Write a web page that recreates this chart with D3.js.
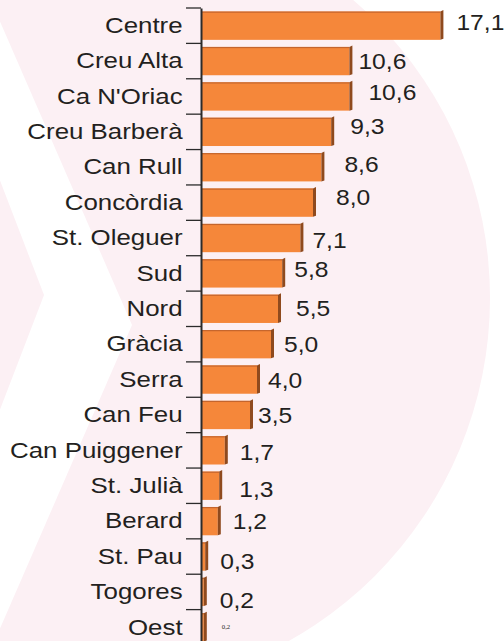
<!DOCTYPE html>
<meta charset="utf-8">
<head>
  <title>Barris</title>
  <script src="https://cdn.jsdelivr.net/npm/d3@7"></script>
</head>
<style>
  body { margin: 0; background: #fff; }
  text { font-family: "Liberation Sans", Arial, sans-serif; fill: #231f20; }
</style>
<body>
<svg width="504" height="641"></svg>
<script>
// data
var categories = ["Centre", "Creu Alta", "Ca N'Oriac", "Creu Barberà", "Can Rull", "Concòrdia",
  "St. Oleguer", "Sud", "Nord", "Gràcia", "Serra", "Can Feu", "Can Puiggener", "St. Julià",
  "Berard", "St. Pau", "Togores", "Oest"];
var values = [17.1, 10.6, 10.6, 9.3, 8.6, 8.0, 7.1, 5.8, 5.5, 5.0, 4.0, 3.5, 1.7, 1.3, 1.2, 0.3, 0.2, 0.2];

// hand placed labels in the original, nudges from the default spot
var labelDx = [13, 6, 16, 16, 20, 20, 9, 9, 15, 10, 8, 5, 12, 17, 12, 12, 13, 15];
var labelDy = [-4, 0, -4, -6, -3, -6, 2, -4, -1, 0, 0, 0, 2, 3, 0, 5, 8, 0];

var fmt = d3.formatLocale({decimal: ",", thousands: ".", grouping: [3], currency: ["", "€"]}).format(".1f");

var svg = d3.select("svg");
var x0 = 201;

var x = d3.scaleLinear().domain([0, 20]).range([x0, x0 + 280]);
var y = d3.scaleBand().domain(categories).range([8, 645]).paddingInner(0.2).paddingOuter(0.1);

// faint pink background shape (disc with white chevron)
var pink = "#fcf0f4";
var defs = svg.append("defs");
defs.append("clipPath").attr("id", "disc")
  .append("circle").attr("cx", 97).attr("cy", 298).attr("r", 393);

// region left of a ">" whose tip is at (tx,ty)
function chevron(tx, ty, s) {
  var h = 900;
  return [[tx, ty], [tx - h / s, ty - h], [-2000, ty - h], [-2000, ty + h], [tx - h / s, ty + h]];
}
var line = d3.line();
var bg = svg.append("g").attr("clip-path", "url(#disc)");
bg.append("rect").attr("width", 504).attr("height", 641).style("fill", pink);
bg.append("path").attr("d", line(chevron(132, 325, 2.3)) + "Z").style("fill", "#fff");
bg.append("path").attr("d", line(chevron(44, 295, 2.6)) + "Z").style("fill", pink);

// bars
var bars = svg.append("g").selectAll("g").data(values).enter().append("g");
bars.append("rect")
  .attr("x", x0)
  .attr("y", function(d, i) { return y(categories[i]); })
  .attr("width", function(d) { return x(d) - x0; })
  .attr("height", y.bandwidth())
  .style("fill", "#f5873a");
bars.append("rect")
  .attr("x", x0)
  .attr("y", function(d, i) { return y(categories[i]); })
  .attr("width", function(d) { return x(d) - x0; })
  .attr("height", 1.2)
  .style("fill", "#c4652d");
bars.append("path")
  .attr("d", function(d, i) {
    var xe = x(d), yt = y(categories[i]), yb = yt + y.bandwidth();
    return line([[xe, yt], [xe + 3, yt - 1.5], [xe + 3, yb - 1], [xe, yb]]) + "Z";
  })
  .style("fill", "#8f4a1e");

// value labels
svg.append("g").selectAll("text").data(values).enter().append("text")
  .attr("transform", function(d, i) {
    var tx = x(d) + 3 + labelDx[i];
    var ty = y(categories[i]) + y.bandwidth() / 2 + labelDy[i];
    return "translate(" + tx + "," + ty + ") scale(1.12,1)";
  })
  .attr("dy", "0.36em")
  .style("font-size", function(d, i) { return i == values.length - 1 ? "6px" : "22px"; })
  .style("font-family", function(d, i) { return i == values.length - 1 ? "'Liberation Serif', serif" : null; })
  .text(function(d) { return fmt(d); });

// axis with category names
var axis = svg.append("g")
  .attr("transform", "translate(" + x0 + ",0)")
  .call(d3.axisLeft(y).tickSize(0).tickSizeOuter(0).tickPadding(16));
axis.select(".domain").style("stroke", "#2b2b2b").style("stroke-width", 2);
axis.selectAll("text")
  .attr("transform", "scale(1.15,1)")
  .style("font-size", "22.5px")
  .style("fill", "#231f20");

// separator ticks between categories
svg.append("g").selectAll("line").data(categories).enter().append("line")
  .attr("x1", 186).attr("x2", x0)
  .attr("y1", function(d) { return y(d) - y.step() * y.paddingInner() / 2; })
  .attr("y2", function(d) { return y(d) - y.step() * y.paddingInner() / 2; })
  .style("stroke", "#2b2b2b")
  .style("stroke-width", 1.3);
</script>
</body>
</html>
